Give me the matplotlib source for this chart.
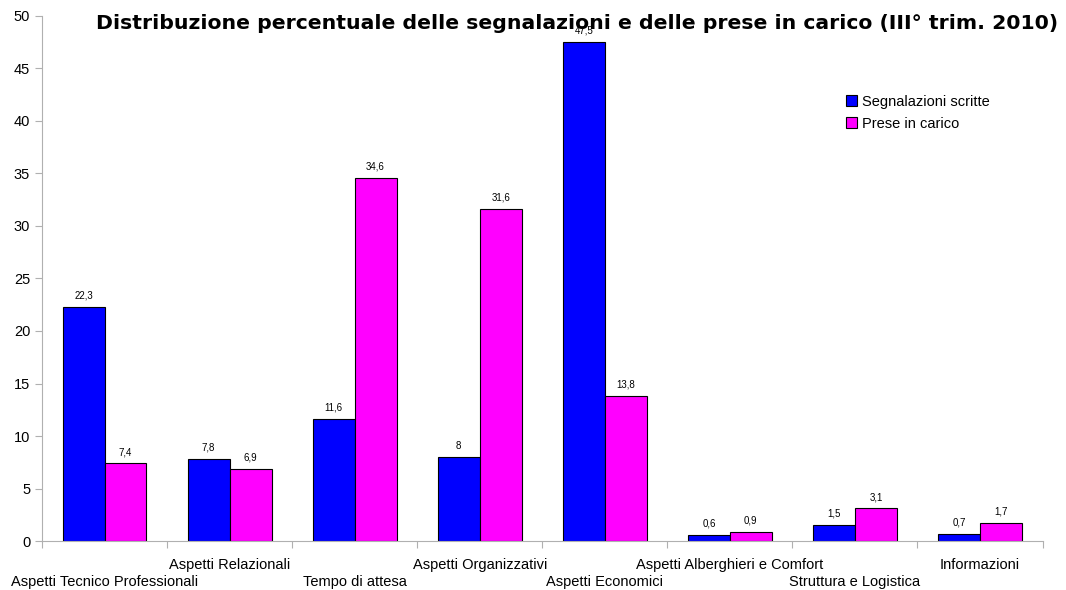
import numpy as np
import matplotlib.pyplot as plt

categorie = ["Aspetti Tecnico Professionali", "Aspetti Relazionali", "Tempo di attesa",
             "Aspetti Organizzativi", "Aspetti Economici", "Aspetti Alberghieri e Comfort",
             "Struttura e Logistica", "Informazioni"]
segnalazioni = [22.3, 7.8, 11.6, 8, 47.5, 0.6, 1.5, 0.7]
prese_in_carico = [7.4, 6.9, 34.6, 31.6, 13.8, 0.9, 3.1, 1.7]

plt.rcParams['font.family'] = ['Liberation Sans', 'DejaVu Sans']

fig = plt.figure(figsize=(10.66, 5.9), dpi=100)
ax = fig.add_axes([0.0394, 0.083, 0.9386, 0.890])

x = np.arange(len(categorie))
w = 0.335
b1 = ax.bar(x - w / 2, segnalazioni, w, color='#0000ff', edgecolor='black', linewidth=0.8,
            label='Segnalazioni scritte')
b2 = ax.bar(x + w / 2, prese_in_carico, w, color='#ff00ff', edgecolor='black', linewidth=0.8,
            label='Prese in carico')

# etichette dei valori sopra le barre
for bars, vals in ((b1, segnalazioni), (b2, prese_in_carico)):
    for r, v in zip(bars, vals):
        ax.text(r.get_x() + r.get_width() / 2, v + 0.6, str(v).replace('.', ','),
                ha='center', va='bottom', fontsize=7)

ax.set_xlim(-0.5, len(categorie) - 0.5)
ax.set_ylim(0, 50)
ax.set_yticks(range(0, 51, 5))
ax.tick_params(axis='y', labelsize=10.5, color='#b0b0b0', length=5)

# etichette delle categorie su due righe alternate
ax.set_xticks(np.arange(-0.5, len(categorie), 1))
ax.set_xticklabels([])
ax.tick_params(axis='x', length=5, color='#b0b0b0')
for i, c in enumerate(categorie):
    dy = -29.5 if i % 2 == 0 else -17.3
    ax.annotate(c, xy=(i, 0), xycoords=('data', 'axes fraction'), xytext=(0, dy),
                textcoords='offset points', ha='center', va='center', fontsize=10.5)

for s in ('top', 'right'):
    ax.spines[s].set_visible(False)
for s in ('left', 'bottom'):
    ax.spines[s].set_color('#b0b0b0')

fig.text(0.541, 0.961, "Distribuzione percentuale delle segnalazioni e delle prese in carico (III° trim. 2010)",
         ha='center', va='center', fontsize=14.7, fontweight='bold', family='DejaVu Sans')

ax.legend(loc='upper left', bbox_to_anchor=(0.79, 0.875), frameon=False, fontsize=10.5,
          handlelength=0.8, handleheight=0.8, handletextpad=0.3, labelspacing=0.55)

fig.savefig('out.png', dpi=100)
